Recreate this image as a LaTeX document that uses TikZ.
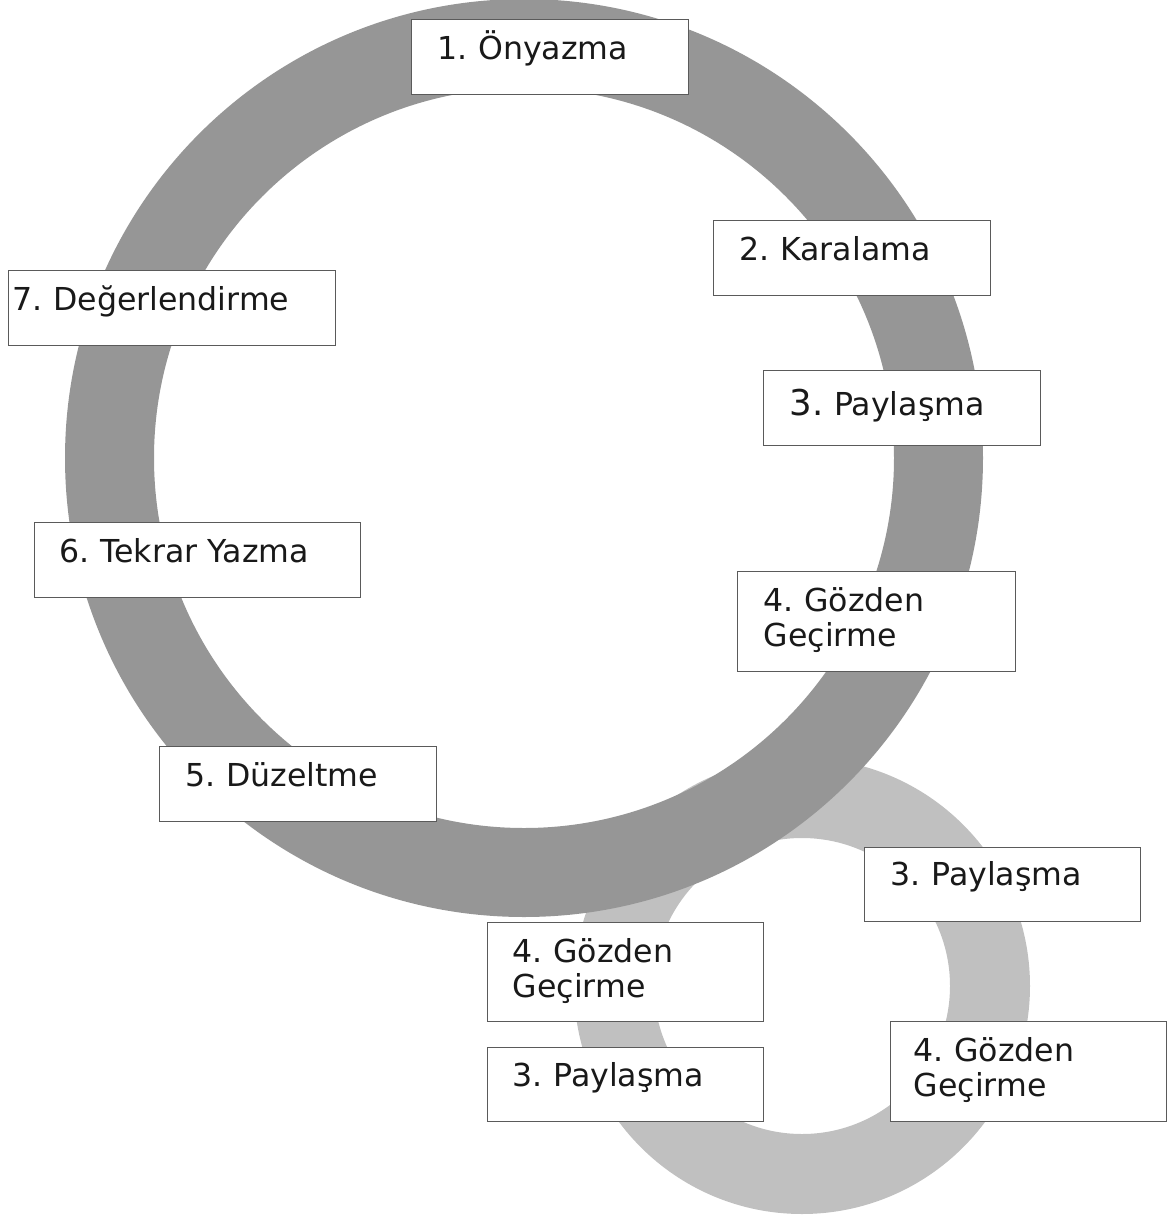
\documentclass[tikz,border=0pt]{standalone}
\usepackage{fontspec}
\setmainfont{DejaVu Sans}
\frenchspacing
\definecolor{ringdark}{HTML}{969696}
\definecolor{ringlight}{HTML}{C0C0C0}
\definecolor{boxline}{HTML}{5A5A5A}
\tikzset{
	stepbox/.style={draw=boxline, line width=1.4pt, fill=white, anchor=north west,
		inner xsep=26pt, inner ysep=0pt, align=left, text=black!90,
		text height=40pt, text depth=35pt,
		font=\fontsize{31.6pt}{35pt}\selectfont},
	twoline/.style={text depth=60pt}
}
\begin{document}
\begin{tikzpicture}[x=1pt, y=-1pt]

	\useasboundingbox (0,0) rectangle (1175,1216);

	\coordinate (cBig) at (524,458);
	\coordinate (cSmall) at (802,986);

	% rings, the small one behind
	\fill[ringlight, even odd rule] (cSmall) circle[radius=228pt] (cSmall) circle[radius=148pt];
	\fill[ringdark, even odd rule] (cBig) circle[radius=459pt] (cBig) circle[radius=370pt];

	% big cycle
	\node[stepbox, text width=225pt] (onyazma) at (411,19) {1. Önyazma};
	\node[stepbox, text width=225pt] (karalama) at (713,220) {2. Karalama};
	\node[stepbox, text width=225pt, text height=45pt, text depth=30pt] (paylasma) at (763,370)
		{{\fontsize{35.5pt}{35pt}\selectfont 3. }Paylaşma};
	\node[stepbox, twoline, text width=226pt] (gozden) at (737,571) {4. Gözden\\Geçirme};
	\node[stepbox, text width=225pt] (duzeltme) at (159,746) {5. Düzeltme};
	\node[stepbox, inner xsep=25pt, text width=276pt] (tekrar) at (34,522) {6. Tekrar Yazma};
	\node[stepbox, inner xsep=4pt, text width=319pt] (degerlendirme) at (8,270) {7. Değerlendirme};

	% small cycle
	\node[stepbox, text width=224pt, text height=38pt, text depth=36pt] (paylasmaR) at (864,847) {3. Paylaşma};
	\node[stepbox, twoline, inner xsep=25pt, text width=226pt, text depth=59pt] (gozdenL) at (487,922) {4. Gözden\\Geçirme};
	\node[stepbox, inner xsep=25pt, text width=226pt, text height=39pt] (paylasmaL) at (487,1047) {3. Paylaşma};
	\node[stepbox, twoline, inner xsep=23pt, text width=230pt] (gozdenR) at (890,1021) {4. Gözden\\Geçirme};

\end{tikzpicture}
\end{document}
